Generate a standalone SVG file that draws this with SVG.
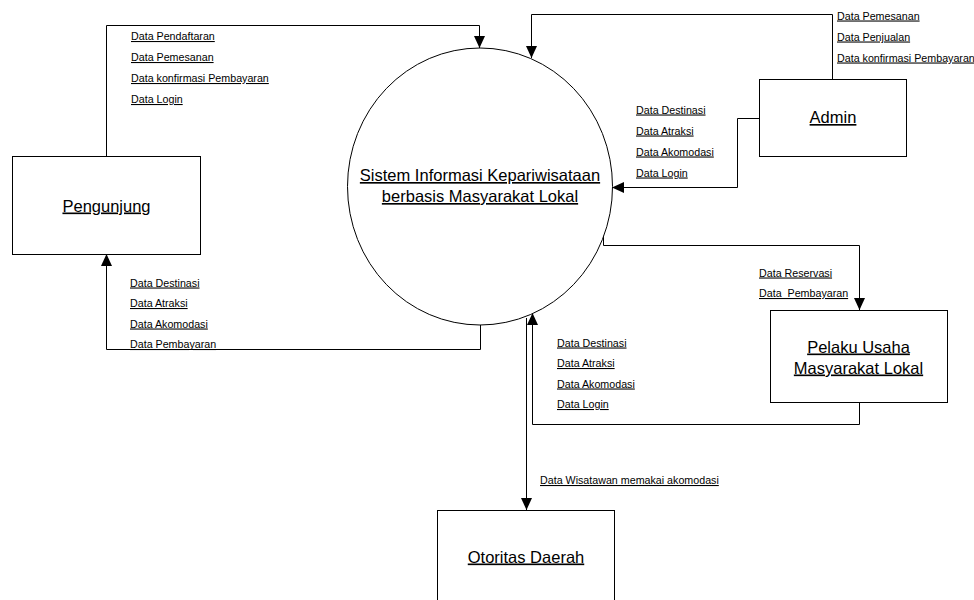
<svg xmlns="http://www.w3.org/2000/svg" width="974" height="600" viewBox="0 0 974 600">
<style>
.box{fill:#fff;stroke:#000;stroke-width:1}
.n{font-family:"Liberation Sans",Arial,sans-serif;font-size:16.5px;text-anchor:middle;text-decoration:underline;fill:#000}
.l{font-family:"Liberation Sans",Arial,sans-serif;font-size:10.7px;text-decoration:underline;fill:#000;white-space:pre}
.c{fill:none;stroke:#000;stroke-width:1}
</style>
<defs>
<marker id="ah" markerUnits="userSpaceOnUse" markerWidth="13" markerHeight="11" refX="12" refY="5.5" orient="auto">
<path d="M0,0 L12,5.5 L0,11 z" fill="#000"/>
</marker>
</defs>
<rect width="974" height="600" fill="#fff"/>
<g id="connectors">
<polyline class="c" points="106.5,156 106.5,25.5 479.5,25.5 479.5,48" marker-end="url(#ah)"/>
<polyline class="c" points="832.5,79 832.5,14.5 531.5,14.5 531.5,58" marker-end="url(#ah)"/>
<polyline class="c" points="759,118.5 737.5,118.5 737.5,187.5 612,187.5" marker-end="url(#ah)"/>
<polyline class="c" points="603.5,232 603.5,245.5 859.5,245.5 859.5,310" marker-end="url(#ah)"/>
<polyline class="c" points="859.5,402 859.5,424.5 532.5,424.5 532.5,313" marker-end="url(#ah)"/>
<polyline class="c" points="480.5,325 480.5,349.5 106.5,349.5 106.5,254" marker-end="url(#ah)"/>
<polyline class="c" points="526.5,318 526.5,510" marker-end="url(#ah)"/>
<text class="l" x="131" y="40">Data Pendaftaran</text>
<text class="l" x="131" y="61">Data Pemesanan</text>
<text class="l" x="131" y="82">Data konfirmasi Pembayaran</text>
<text class="l" x="131" y="103">Data Login</text>
<text class="l" x="837" y="19.5">Data Pemesanan</text>
<text class="l" x="837" y="40.5">Data Penjualan</text>
<text class="l" x="837" y="61.5">Data konfirmasi Pembayaran</text>
<text class="l" x="636" y="113.5">Data Destinasi</text>
<text class="l" x="636" y="134.5">Data Atraksi</text>
<text class="l" x="636" y="155.5">Data Akomodasi</text>
<text class="l" x="636" y="176.5">Data Login</text>
<text class="l" x="759" y="276.5">Data Reservasi</text>
<text class="l" x="759" y="297" xml:space="preserve">Data  Pembayaran</text>
<text class="l" x="557" y="346.5">Data Destinasi</text>
<text class="l" x="557" y="367">Data Atraksi</text>
<text class="l" x="557" y="387.5">Data Akomodasi</text>
<text class="l" x="557" y="408">Data Login</text>
<text class="l" x="130" y="286.5">Data Destinasi</text>
<text class="l" x="130" y="307">Data Atraksi</text>
<text class="l" x="130" y="327.5">Data Akomodasi</text>
<text class="l" x="130" y="348">Data Pembayaran</text>
<text class="l" x="540" y="484">Data Wisatawan memakai akomodasi</text>
</g>
<g id="sistem">
<ellipse class="box" cx="480" cy="186.5" rx="132.5" ry="138.5"/>
<text class="n" x="480" y="181">Sistem Informasi Kepariwisataan</text>
<text class="n" x="480" y="202">berbasis Masyarakat Lokal</text>
</g>
<g id="pengunjung">
<rect class="box" x="12.5" y="156.5" width="188" height="98"/>
<text class="n" x="106.5" y="211.5">Pengunjung</text>
</g>
<g id="admin">
<rect class="box" x="759.5" y="79.5" width="147" height="77"/>
<text class="n" x="833" y="123">Admin</text>
</g>
<g id="pelaku">
<rect class="box" x="770.5" y="310.5" width="177" height="92"/>
<text class="n" x="858.5" y="352.5">Pelaku Usaha</text>
<text class="n" x="858.5" y="373.5">Masyarakat Lokal</text>
</g>
<g id="otoritas">
<rect class="box" x="437.5" y="510.5" width="177" height="100"/>
<text class="n" x="526" y="562.5">Otoritas Daerah</text>
</g>
</svg>
